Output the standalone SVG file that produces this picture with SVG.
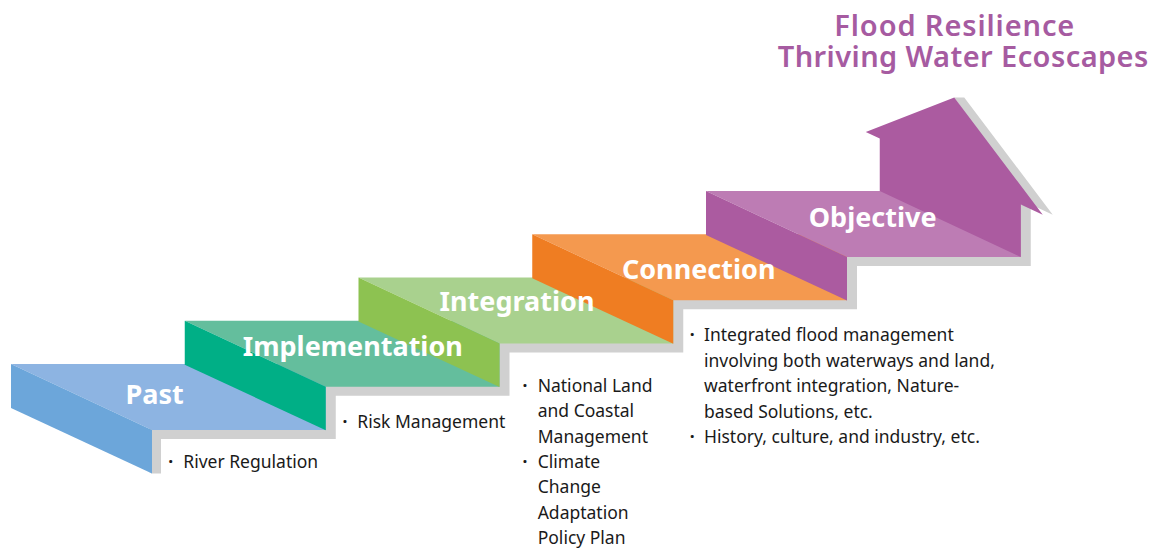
<svg xmlns="http://www.w3.org/2000/svg" width="1158" height="550" viewBox="0 0 1158 550">
  <style>
    .label { font-family: "Noto Sans", "Open Sans", "Liberation Sans", sans-serif; font-size: 27px; font-weight: 700; fill: #ffffff; text-anchor: middle; }
    .title { font-family: "Noto Sans", "Open Sans", "Liberation Sans", sans-serif; font-size: 29px; font-weight: 600; fill: #a65ba1; }
    .note { font-family: "Noto Sans", "Open Sans", "Liberation Sans", sans-serif; font-size: 17.5px; font-weight: 400; fill: #1a1a1a; }
    .dot { text-anchor: middle; font-weight: 700; }
    .shadow { fill: #d0d0d0; }
  </style>
  <defs>
    <!-- one step: tread (top face) and riser (front face), local coordinates -->
    <polygon id="tread" points="0,0 314.75,0 314.75,66 141,66"/>
    <polygon id="riser" points="0,0 141,66 141,109.5 0,44"/>
  </defs>

  <rect width="1158" height="550" fill="#ffffff"/>

  <!-- grey ledge running along the right/lower edge of the staircase and arrow -->
  <g id="connectors">
    <polygon class="shadow" points="152,473.5 161,473.5 161,439 335.75,439 335.75,395.75 509.5,395.75 509.5,352.5 683.25,352.5 683.25,309.25 857,309.25 857,266 1030.75,266 1030.75,204.5 1052.75,214.8 964.25,97.5 954.25,97.5 1029,205 1016,205 1016,252 844,252 844,296.25 670.25,296.25 670.25,339.5 496.5,339.5 496.5,382.75 322.75,382.75 322.75,426 149,426 149,472"/>
  </g>

  <g id="step-past" transform="translate(11,364)">
    <use href="#tread" fill="#8db4e2"/>
    <use href="#riser" fill="#6ca6da"/>
  </g>
  <g id="step-implementation" transform="translate(184.75,320.75)">
    <use href="#tread" fill="#64be9d"/>
    <use href="#riser" fill="#00af86"/>
  </g>
  <g id="step-integration" transform="translate(358.5,277.5)">
    <use href="#tread" fill="#a9d18e"/>
    <use href="#riser" fill="#8dc251"/>
  </g>
  <g id="step-connection" transform="translate(532.25,234.25)">
    <use href="#tread" fill="#f4994f"/>
    <use href="#riser" fill="#ef7d22"/>
  </g>
  <g id="step-objective" transform="translate(706,191)">
    <use href="#tread" fill="#bd7cb4"/>
    <use href="#riser" fill="#ab5ba0"/>
  </g>

  <!-- upward arrow rising from the top step -->
  <g id="arrow-goal">
    <polygon fill="#ab5ba0" points="879.75,191 879.75,138.5 865.75,132 954.25,97.5 1042.75,214.8 1020.75,204.5 1020.75,257"/>
  </g>

  <!-- step labels -->
  <g id="labels">
    <text class="label" x="154.7" y="404">Past</text>
    <text class="label" x="352.8" y="356">Implementation</text>
    <text class="label" x="517" y="310.7">Integration</text>
    <text class="label" x="698.7" y="279.3">Connection</text>
    <text class="label" x="872.7" y="227.3">Objective</text>
  </g>

  <g id="title">
    <text class="title" x="834.3" y="36" textLength="240">Flood Resilience</text>
    <text class="title" x="777.7" y="67" textLength="370.6">Thriving Water Ecoscapes</text>
  </g>

  <!-- notes under each step -->
  <g id="note-past">
    <text class="note"><tspan class="dot" x="170.7" y="468.3">·</tspan><tspan x="183.3" y="468.3">River Regulation</tspan></text>
  </g>
  <g id="note-implementation">
    <text class="note"><tspan class="dot" x="345" y="427.7">·</tspan><tspan x="357.3" y="427.7">Risk Management</tspan></text>
  </g>
  <g id="note-integration">
    <text class="note">
      <tspan class="dot" x="525" y="391.7">·</tspan><tspan x="537.7" y="391.7">National Land</tspan>
      <tspan x="537.7" y="417.1">and Coastal</tspan>
      <tspan x="537.7" y="442.5">Management</tspan>
      <tspan class="dot" x="525" y="467.9">·</tspan><tspan x="537.7" y="467.9">Climate</tspan>
      <tspan x="537.7" y="493.3">Change</tspan>
      <tspan x="537.7" y="518.7">Adaptation</tspan>
      <tspan x="537.7" y="544.1">Policy Plan</tspan>
    </text>
  </g>
  <g id="note-connection">
    <text class="note">
      <tspan class="dot" x="692.3" y="341">·</tspan><tspan x="704" y="341">Integrated flood management</tspan>
      <tspan x="704" y="366.5">involving both waterways and land,</tspan>
      <tspan x="704" y="392">waterfront integration, Nature-</tspan>
      <tspan x="704" y="417.5">based Solutions, etc.</tspan>
      <tspan class="dot" x="692.3" y="443">·</tspan><tspan x="704" y="443">History, culture, and industry, etc.</tspan>
    </text>
  </g>
</svg>
